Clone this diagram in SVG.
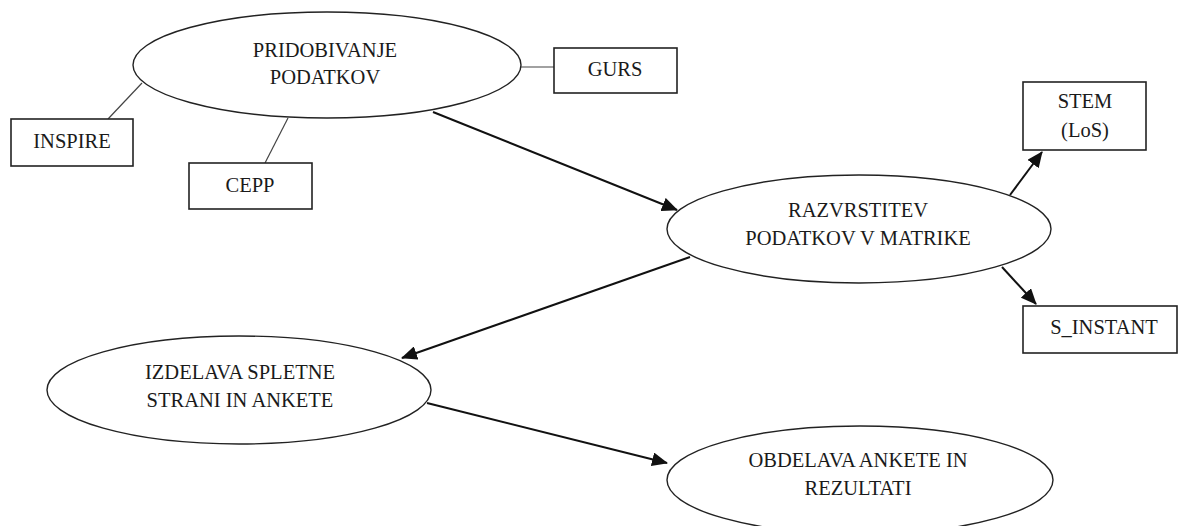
<svg xmlns="http://www.w3.org/2000/svg" width="1180" height="526" viewBox="0 0 1180 526">
<defs>
<marker id="ah" markerUnits="userSpaceOnUse" markerWidth="16" markerHeight="14" refX="15" refY="7" orient="auto">
<path d="M0,0 L16,7 L0,14 Z" fill="#111"/>
</marker>
<style>
.el{fill:#fff;stroke:#222;stroke-width:1.4}
.bx{fill:#fff;stroke:#222;stroke-width:1.6}
.t{font-family:"Liberation Serif","Times New Roman",serif;font-size:20.5px;fill:#1a1a1a;text-anchor:middle}
.ln{stroke:#444;stroke-width:1.2;fill:none}
.ar{stroke:#111;stroke-width:2;fill:none;marker-end:url(#ah)}
</style>
</defs>
<rect width="1180" height="526" fill="#fff"/>
<g id="connectors">
<line class="ln" x1="142" y1="83" x2="108" y2="119"/>
<line class="ln" x1="288" y1="118" x2="265" y2="163"/>
<line class="ln" x1="519" y1="67" x2="554" y2="67"/>
<line class="ar" x1="433" y1="112" x2="677" y2="210"/>
<line class="ar" x1="1010" y1="195" x2="1042" y2="152"/>
<line class="ar" x1="1002" y1="267" x2="1036" y2="304"/>
<line class="ar" x1="690" y1="257" x2="402" y2="358"/>
<line class="ar" x1="427" y1="403" x2="667" y2="463"/>
</g>
<g id="pridobivanje">
<ellipse class="el" cx="327" cy="65" rx="194" ry="53"/>
<text class="t" x="325" y="57">PRIDOBIVANJE</text>
<text class="t" x="325" y="84">PODATKOV</text>
</g>
<g id="gurs">
<rect class="bx" x="554" y="48" width="123" height="45"/>
<text class="t" x="615" y="76">GURS</text>
</g>
<g id="inspire">
<rect class="bx" x="11" y="119" width="122" height="47"/>
<text class="t" x="72" y="148">INSPIRE</text>
</g>
<g id="cepp">
<rect class="bx" x="189" y="163" width="123" height="46"/>
<text class="t" x="250" y="192">CEPP</text>
</g>
<g id="razvrstitev">
<ellipse class="el" cx="859" cy="229" rx="192" ry="54"/>
<text class="t" x="858" y="217">RAZVRSTITEV</text>
<text class="t" x="858" y="245">PODATKOV V MATRIKE</text>
</g>
<g id="stem">
<rect class="bx" x="1023" y="82" width="123" height="68"/>
<text class="t" x="1085" y="108">STEM</text>
<text class="t" x="1085" y="137">(LoS)</text>
</g>
<g id="s_instant">
<rect class="bx" x="1023" y="306" width="154" height="47"/>
<text class="t" x="1104" y="334">S_INSTANT</text>
</g>
<g id="izdelava">
<ellipse class="el" cx="239" cy="390" rx="192" ry="54"/>
<text class="t" x="240" y="379">IZDELAVA SPLETNE</text>
<text class="t" x="240" y="407">STRANI IN ANKETE</text>
</g>
<g id="obdelava">
<ellipse class="el" cx="860" cy="480" rx="193" ry="54"/>
<text class="t" x="858" y="467">OBDELAVA ANKETE IN</text>
<text class="t" x="858" y="495">REZULTATI</text>
</g>
</svg>
